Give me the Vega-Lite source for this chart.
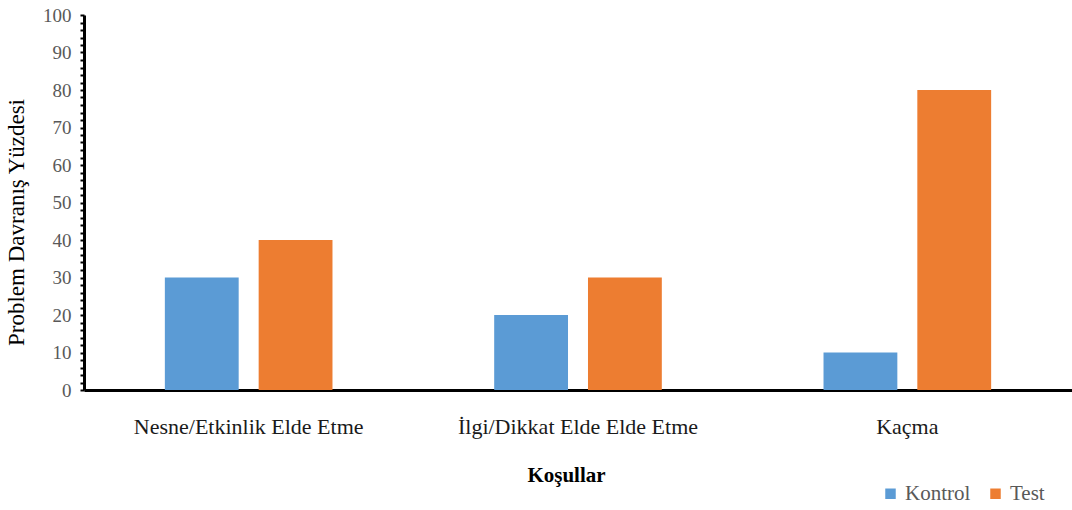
{
  "$schema": "https://vega.github.io/schema/vega-lite/v6.json",
  "autosize": "none",
  "padding": {"left": 84, "top": 15, "right": 0, "bottom": 120},
  "width": 988,
  "height": 375,
  "background": "white",
  "config": {
    "view": {"stroke": null},
    "font": "Liberation Serif",
    "legend": {"labelFont": "Liberation Serif", "labelFontSize": 21, "labelColor": "#595959"}
  },
  "data": {
    "values": [
      {"kosul": "Nesne/Etkinlik Elde Etme", "grup": "Kontrol", "yuzde": 30},
      {"kosul": "Nesne/Etkinlik Elde Etme", "grup": "Test", "yuzde": 40},
      {"kosul": "İlgi/Dikkat  Elde Elde Etme", "grup": "Kontrol", "yuzde": 20},
      {"kosul": "İlgi/Dikkat  Elde Elde Etme", "grup": "Test", "yuzde": 30},
      {"kosul": "Kaçma", "grup": "Kontrol", "yuzde": 10},
      {"kosul": "Kaçma", "grup": "Test", "yuzde": 80}
    ]
  },
  "mark": {"type": "bar"},
  "encoding": {
    "x": {
      "field": "kosul",
      "type": "nominal",
      "sort": null,
      "scale": {"paddingInner": 0.491, "paddingOuter": 0.2455},
      "axis": {
        "title": "Koşullar",
        "titleFont": "Liberation Serif",
        "titleFontSize": 21,
        "titleFontWeight": "bold",
        "titleColor": "#000000",
        "titlePadding": 27,
        "titleX": 482,
        "labelAngle": 0,
        "labelLimit": 0,
        "labelFont": "Liberation Serif",
        "labelFontSize": 22,
        "labelColor": "#1a1a1a",
        "labelPadding": 26,
        "ticks": false,
        "domainColor": "#000000",
        "domainWidth": 3
      }
    },
    "xOffset": {
      "field": "grup",
      "type": "nominal",
      "scale": {"paddingInner": 0.213, "paddingOuter": 0}
    },
    "y": {
      "field": "yuzde",
      "type": "quantitative",
      "scale": {"domain": [0, 100], "nice": false},
      "axis": {
        "title": "Problem Davranış Yüzdesi",
        "titleFont": "Liberation Serif",
        "titleFontSize": 23,
        "titleFontWeight": "normal",
        "titleColor": "#000000",
        "titlePadding": 14,
        "titleY": 207,
        "values": [0, 2, 4, 6, 8, 10, 12, 14, 16, 18, 20, 22, 24, 26, 28, 30, 32, 34, 36, 38, 40, 42, 44, 46, 48, 50, 52, 54, 56, 58, 60, 62, 64, 66, 68, 70, 72, 74, 76, 78, 80, 82, 84, 86, 88, 90, 92, 94, 96, 98, 100],
        "labelExpr": "datum.value % 10 === 0 ? datum.label : ''",
        "labelFont": "Liberation Serif",
        "labelFontSize": 19,
        "labelColor": "#595959",
        "labelPadding": 9,
        "grid": false,
        "tickColor": "#000000",
        "tickSize": 4,
        "tickWidth": 2,
        "domainColor": "#000000",
        "domainWidth": 3
      }
    },
    "color": {
      "field": "grup",
      "type": "nominal",
      "scale": {"domain": ["Kontrol", "Test"], "range": ["#5B9BD5", "#ED7D31"]},
      "legend": {
        "title": null,
        "orient": "none",
        "direction": "horizontal",
        "legendX": 796,
        "legendY": 468,
        "symbolType": "square",
        "symbolSize": 110,
        "symbolStrokeWidth": 0,
        "labelFont": "Liberation Serif",
        "labelFontSize": 21,
        "labelColor": "#595959",
        "columnPadding": 14,
        "labelOffset": 4
      }
    }
  }
}
